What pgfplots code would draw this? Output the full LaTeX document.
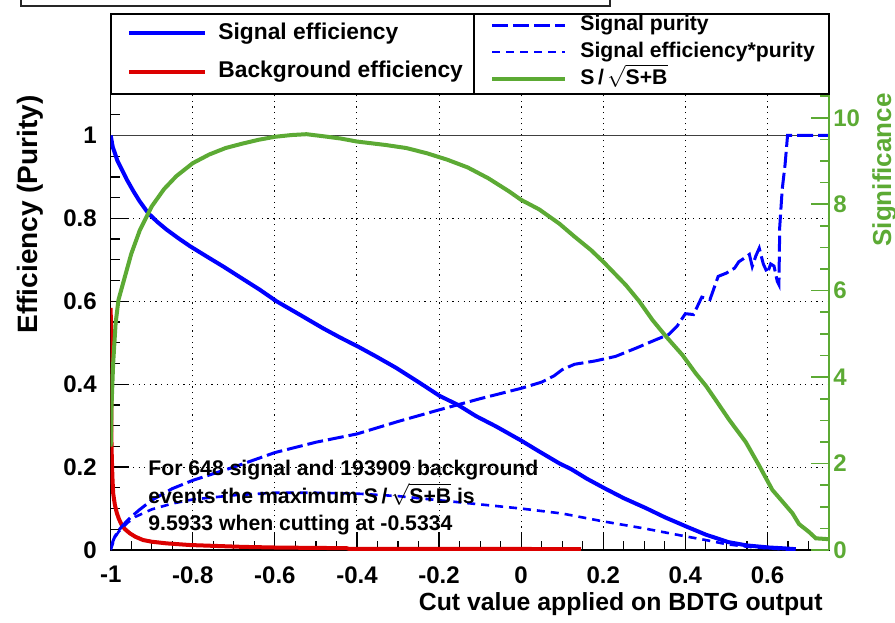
\documentclass[border=0pt]{standalone}
\usepackage{fontspec}
\setmainfont{Liberation Sans}
\usepackage{amsmath}
\usepackage{pgfplots}
\pgfplotsset{compat=1.18}
\definecolor{sigblue}{RGB}{0,0,255}
\definecolor{bkgred}{RGB}{220,0,0}
\definecolor{signif}{RGB}{92,170,52}
\newcommand{\soverb}{S\,/\,\smash{$\sqrt{\text{S+B}}$}}

\pgfplotsset{
  roo/.style={
    scale only axis, width=359.15pt, height=228pt,
    at={(55.35pt,36pt)}, anchor=south west,
    xmin=-1, xmax=0.75,
    tick align=inside,
    major tick length=9pt, minor tick length=4.5pt,
    every tick/.style={black, line width=0.6pt},
    axis line style={line width=0.8pt},
    tick label style={font=\fontsize{12}{12}\selectfont\bfseries, inner sep=0pt},
  },
}

\begin{document}
\begin{tikzpicture}
\useasboundingbox (0,0) rectangle (447.5pt,311pt);
% title pave cut off at the top
\draw[black!85, line width=0.8pt] (10.5pt,311pt) -- (10.5pt,308pt) -- (305pt,308pt) -- (305pt,311pt);

\begin{axis}[roo,
  ymin=0, ymax=1.1,
  xtick={-1,-0.8,-0.6,-0.4,-0.2,0,0.2,0.4,0.6},
  xticklabels={-1,-0.8,-0.6,-0.4,-0.2,0,0.2,0.4,0.6},
  minor xtick={-0.95,-0.9,-0.85,-0.75,-0.7,-0.65,-0.55,-0.5,-0.45,-0.35,-0.3,-0.25,-0.15,-0.1,-0.05,0.05,0.1,0.15,0.25,0.3,0.35,0.45,0.5,0.55,0.65,0.7},
  ytick={0,0.2,0.4,0.6,0.8,1},
  yticklabels={0,0.2,0.4,0.6,0.8,1},
  minor ytick={0.05,0.1,0.15,0.25,0.3,0.35,0.45,0.5,0.55,0.65,0.7,0.75,0.85,0.9,0.95,1.05},
  xtick pos=left, ytick pos=left,
  xticklabel style={anchor=north, yshift=-8pt},
  yticklabel style={anchor=east, xshift=-6.8pt},
  grid=major,
  major grid style={black, line width=0.5pt, dash pattern=on 0.6pt off 2.2pt},
  legend style={draw=none, fill=none, at={(0.0227,1.091)}, anchor=west, inner sep=0pt,
    row sep=8.5pt, font=\fontsize{11.4}{11.4}\selectfont\bfseries,
    nodes={inner sep=0pt, text height=8.2pt, text depth=2.4pt},
    /tikz/every odd column/.append style={column sep=5.5pt}},
  legend cell align=left,
  legend image code/.code={\draw[#1] (0pt,0pt) -- (38pt,0pt);},
]
% reference line at 1
\addplot[black!75, line width=0.6pt, forget plot] coordinates {(-1,1) (0.75,1)};

% signal efficiency
\addplot[sigblue, line width=2pt] coordinates {
(-1,1.0) (-0.995,0.972) (-0.99,0.958) (-0.984,0.94) (-0.977,0.926) (-0.969,0.91)
(-0.961,0.894) (-0.953,0.88) (-0.945,0.866) (-0.93,0.842) (-0.909,0.813) (-0.887,0.792)
(-0.864,0.773) (-0.835,0.752) (-0.807,0.733) (-0.766,0.708) (-0.726,0.684) (-0.68,0.655)
(-0.637,0.628) (-0.596,0.600) (-0.54,0.568) (-0.483,0.535) (-0.44,0.512) (-0.398,0.491)
(-0.35,0.465) (-0.304,0.439) (-0.25,0.405) (-0.199,0.372) (-0.154,0.350) (-0.11,0.323)
(-0.061,0.298) (0.0,0.264) (0.04,0.24) (0.093,0.209) (0.122,0.195) (0.16,0.172)
(0.203,0.149) (0.25,0.125) (0.304,0.101) (0.35,0.079) (0.404,0.056) (0.45,0.037)
(0.505,0.019) (0.55,0.011) (0.604,0.006) (0.64,0.004) (0.669,0.002)
};
\addlegendentry{Signal efficiency}

% background efficiency
\addplot[bkgred, line width=2pt] coordinates {
(-1,0.584) (-0.999,0.45) (-0.998,0.25) (-0.996,0.18) (-0.994,0.137) (-0.99,0.11)
(-0.985,0.089) (-0.98,0.075) (-0.973,0.06) (-0.965,0.05) (-0.953,0.04) (-0.94,0.032)
(-0.921,0.024) (-0.9,0.02) (-0.864,0.016) (-0.807,0.012) (-0.75,0.01) (-0.677,0.0075)
(-0.6,0.006) (-0.5,0.005) (-0.426,0.0045) (-0.42,0.003) (0,0.0025) (0.146,0.002)
};
\addlegendentry{Background efficiency}

% signal purity
\addplot[sigblue, line width=1.5pt, dash pattern=on 8pt off 2.5pt, forget plot] coordinates {
(-1,0.003) (-0.995,0.02) (-0.99,0.032) (-0.98,0.048) (-0.97,0.06) (-0.95,0.08)
(-0.93,0.097) (-0.9,0.12) (-0.85,0.148) (-0.8,0.168) (-0.7,0.2) (-0.6,0.235)
(-0.5,0.26) (-0.4,0.28) (-0.3,0.31) (-0.2,0.338) (-0.1,0.365) (0,0.39)
(0.05,0.405) (0.08,0.42) (0.1,0.435) (0.13,0.448) (0.18,0.456) (0.23,0.467)
(0.28,0.487) (0.33,0.508) (0.36,0.52) (0.38,0.54) (0.40,0.57) (0.42,0.568)
(0.44,0.61) (0.46,0.604) (0.48,0.66) (0.50,0.668) (0.52,0.68) (0.53,0.695)
(0.545,0.705) (0.556,0.713) (0.563,0.684) (0.572,0.71) (0.58,0.728) (0.59,0.69)
(0.60,0.668) (0.608,0.69) (0.616,0.685) (0.624,0.648) (0.628,0.64) (0.63,0.78)
(0.636,0.87) (0.643,0.93) (0.649,1.0) (0.75,1.0)
};

% signal efficiency * purity
\addplot[sigblue, line width=1.3pt, dash pattern=on 4pt off 3pt, forget plot] coordinates {
(-1,0) (-0.99,0.03) (-0.98,0.045) (-0.96,0.065) (-0.94,0.08) (-0.9,0.098)
(-0.85,0.112) (-0.8,0.122) (-0.7,0.132) (-0.6,0.138) (-0.5,0.138) (-0.4,0.136)
(-0.3,0.13) (-0.2,0.12) (-0.1,0.11) (0,0.1) (0.1,0.088) (0.2,0.069)
(0.3,0.052) (0.4,0.033) (0.45,0.024) (0.5,0.014) (0.55,0.008) (0.6,0.004)
(0.65,0.001) (0.67,0.0)
};
\end{axis}

\begin{axis}[roo,
  ymin=0, ymax=10.55,
  axis y line*=right, axis x line=none,
  ytick={0,2,4,6,8,10},
  yticklabels={0,2,4,6,8,10},
  minor ytick={0.5,1,1.5,2.5,3,3.5,4.5,5,5.5,6.5,7,7.5,8.5,9,9.5,10.5},
  every tick/.style={signif, line width=0.8pt},
  y axis line style={signif, line width=0.8pt},
  yticklabel style={signif, anchor=west, xshift=2pt},
  legend style={draw=none, fill=none, at={(0.528,1.092)}, anchor=west, inner sep=0pt,
    row sep=3.4pt, font=\fontsize{10.6}{10.6}\selectfont\bfseries,
    nodes={inner sep=0pt, text height=7.8pt, text depth=2.3pt},
    /tikz/every odd column/.append style={column sep=6.5pt}},
  legend cell align=left,
  legend image code/.code={\draw[#1] (0pt,0pt) -- (36.5pt,0pt);},
]
\addlegendimage{sigblue, line width=1.5pt, dash pattern=on 8pt off 2.5pt}
\addlegendentry{Signal purity}
\addlegendimage{sigblue, line width=1.3pt, dash pattern=on 4pt off 3pt}
\addlegendentry{Signal efficiency*purity}

% significance S/sqrt(S+B)
\addplot[signif, line width=2pt] coordinates {
(-1,2.39) (-0.998,3.32) (-0.994,4.32) (-0.988,5.25) (-0.981,5.79) (-0.969,6.2)
(-0.95,6.85) (-0.929,7.4) (-0.9,7.95) (-0.87,8.35) (-0.84,8.65) (-0.8,8.95)
(-0.76,9.15) (-0.72,9.3) (-0.68,9.4) (-0.64,9.49)
(-0.6,9.56) (-0.56,9.6) (-0.523,9.62) (-0.48,9.57) (-0.44,9.52) (-0.4,9.45)
(-0.33,9.37) (-0.28,9.3) (-0.23,9.18) (-0.18,9.03) (-0.13,8.85) (-0.08,8.6)
(-0.03,8.3) (0.0,8.1) (0.044,7.88) (0.093,7.55) (0.13,7.25) (0.17,6.94)
(0.203,6.64) (0.255,6.13) (0.288,5.75) (0.32,5.32) (0.353,4.94) (0.393,4.51)
(0.425,4.09) (0.45,3.8) (0.474,3.47) (0.507,3.01) (0.547,2.5) (0.58,1.95)
(0.612,1.39) (0.633,1.16) (0.661,0.85) (0.677,0.6) (0.701,0.42) (0.718,0.27)
(0.75,0.25)
};
\addlegendentry{\soverb}
\end{axis}

% legend frame
\draw[line width=0.8pt] (55.35pt,304pt) rectangle (414.5pt,264pt);
\draw[line width=0.8pt] (237pt,304pt) -- (237pt,264pt);

% annotation
\begin{scope}[every node/.style={anchor=base west, inner sep=0pt, font=\fontsize{10.6}{10.6}\selectfont\bfseries}]
\node at (74pt,73.5pt) {For 648 signal and 193909 background};
\node at (74pt,59.5pt) {events the maximum \soverb{} is};
\node at (74pt,45.5pt) {9.5933 when cutting at -0.5334};
\end{scope}

% axis titles
\node[rotate=90, anchor=base east, inner sep=0pt, font=\fontsize{14}{14}\selectfont\bfseries] at (19pt,263.5pt) {Efficiency (Purity)};
\node[rotate=90, anchor=base east, inner sep=0pt, text=signif, font=\fontsize{13}{13}\selectfont\bfseries] at (445.5pt,264.5pt) {Significance};
\node[anchor=base east, inner sep=0pt, font=\fontsize{12.4}{12.4}\selectfont\bfseries] at (411.5pt,6pt) {Cut value applied on BDTG output};
\end{tikzpicture}
\end{document}
